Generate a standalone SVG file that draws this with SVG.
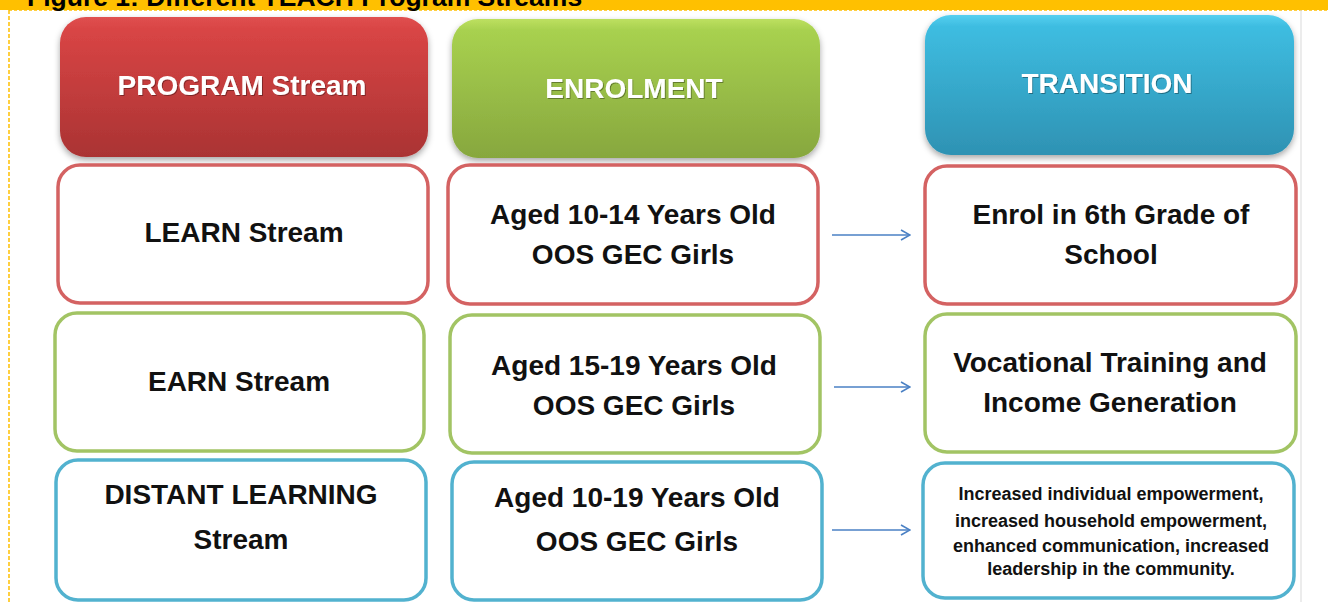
<svg xmlns="http://www.w3.org/2000/svg" width="1328" height="602" viewBox="0 0 1328 602">
<defs>
<linearGradient id="gRed" x1="0" y1="0" x2="0" y2="1"><stop offset="0" stop-color="#e05050"/><stop offset="0.08" stop-color="#d94545"/><stop offset="1" stop-color="#aa3333"/></linearGradient>
<linearGradient id="gGreen" x1="0" y1="0" x2="0" y2="1"><stop offset="0" stop-color="#bde060"/><stop offset="0.08" stop-color="#a8d14f"/><stop offset="1" stop-color="#87a73e"/></linearGradient>
<linearGradient id="gBlue" x1="0" y1="0" x2="0" y2="1"><stop offset="0" stop-color="#55d0f0"/><stop offset="0.08" stop-color="#3ebde1"/><stop offset="1" stop-color="#2e92b3"/></linearGradient>
<filter id="sh" x="-5%" y="-5%" width="110%" height="115%"><feDropShadow dx="0" dy="3" stdDeviation="3" flood-color="#000" flood-opacity="0.35"/></filter>
<filter id="tsh" x="-5%" y="-20%" width="110%" height="140%"><feDropShadow dx="1" dy="1" stdDeviation="0.6" flood-color="#000" flood-opacity="0.35"/></filter>
<marker id="arr" viewBox="0 0 12 12" refX="11" refY="6" markerWidth="12" markerHeight="12" markerUnits="userSpaceOnUse" orient="auto"><path d="M2,1 L11,6 L2,11" fill="none" stroke="#4a80c4" stroke-width="1.6"/></marker>
</defs>
<style>
.hdr{stroke:none;filter:url(#sh)}
.box{fill:#fff;stroke-width:3.5}
.r{stroke:#d46262}
.g{stroke:#a2c464}
.b{stroke:#52b2cf}
.ht{font-family:"Liberation Sans",Arial,sans-serif;font-weight:bold;font-size:28px;fill:#fff;text-anchor:middle;filter:url(#tsh)}
.t{font-family:"Liberation Sans",Arial,sans-serif;font-weight:bold;font-size:28px;fill:#111;text-anchor:middle}
.s{font-family:"Liberation Sans",Arial,sans-serif;font-weight:bold;font-size:18px;fill:#111;text-anchor:middle}
.con{stroke:#4a80c4;stroke-width:1.6;fill:none}
</style>
<rect x="0" y="0" width="1328" height="602" fill="#fff"/>
<g id="banner">
<rect x="0" y="0" width="1328" height="10" fill="#ffc000"/>
<line x1="9" y1="10" x2="1328" y2="10" stroke="#ffc000" stroke-width="1.5" stroke-dasharray="3,2"/>
<line x1="9" y1="10" x2="9" y2="602" stroke="#ffc000" stroke-width="1.5" stroke-dasharray="4,2"/>
<line x1="1301" y1="10" x2="1301" y2="602" stroke="#d9d9d9" stroke-width="1"/>
<text x="27" y="6" font-family="Liberation Sans,Arial,sans-serif" font-weight="bold" font-size="26.5" fill="#000">Figure 1: Different TEACH Program Streams</text>
</g>
<g id="hdr-program"><rect class="hdr" x="60" y="17" width="368" height="140" rx="26" fill="url(#gRed)"/><text class="ht" x="242" y="95">PROGRAM Stream</text></g>
<g id="hdr-enrolment"><rect class="hdr" x="452" y="19" width="368" height="139" rx="26" fill="url(#gGreen)"/><text class="ht" x="634" y="98">ENROLMENT</text></g>
<g id="hdr-transition"><rect class="hdr" x="925" y="15" width="369" height="140" rx="26" fill="url(#gBlue)"/><text class="ht" x="1107" y="93">TRANSITION</text></g>
<g id="learn"><rect class="box r" x="58" y="165" width="370" height="138" rx="22"/><text class="t" x="244" y="242">LEARN Stream</text></g>
<g id="enrol-learn"><rect class="box r" x="448" y="165" width="370" height="139" rx="22"/><text class="t" x="633" y="224">Aged 10-14 Years Old</text><text class="t" x="633" y="264">OOS GEC Girls</text></g>
<g id="trans-learn"><rect class="box r" x="925" y="166" width="371" height="138" rx="22"/><text class="t" x="1111" y="224">Enrol in 6th Grade of</text><text class="t" x="1111" y="264">School</text></g>
<g id="earn"><rect class="box g" x="55" y="313" width="369" height="138" rx="22"/><text class="t" x="239" y="391">EARN Stream</text></g>
<g id="enrol-earn"><rect class="box g" x="450" y="315" width="370" height="138" rx="22"/><text class="t" x="634" y="375">Aged 15-19 Years Old</text><text class="t" x="634" y="415">OOS GEC Girls</text></g>
<g id="trans-earn"><rect class="box g" x="925" y="314" width="371" height="138" rx="22"/><text class="t" x="1110" y="372">Vocational Training and</text><text class="t" x="1110" y="412">Income Generation</text></g>
<g id="distant"><rect class="box b" x="56" y="460" width="370" height="140" rx="22"/><text class="t" x="241" y="504">DISTANT LEARNING</text><text class="t" x="241" y="549">Stream</text></g>
<g id="enrol-distant"><rect class="box b" x="452" y="462" width="370" height="138" rx="22"/><text class="t" x="637" y="507">Aged 10-19 Years Old</text><text class="t" x="637" y="551">OOS GEC Girls</text></g>
<g id="trans-distant"><rect class="box b" x="923" y="463" width="371" height="135" rx="22"/>
<text class="s" x="1111" y="500">Increased individual empowerment,</text>
<text class="s" x="1111" y="527">increased household empowerment,</text>
<text class="s" x="1111" y="552">enhanced communication, increased</text>
<text class="s" x="1111" y="575">leadership in the community.</text></g>
<g id="connectors">
<line class="con" x1="832" y1="235" x2="910" y2="235" marker-end="url(#arr)"/>
<line class="con" x1="834" y1="387" x2="910" y2="387" marker-end="url(#arr)"/>
<line class="con" x1="832" y1="530" x2="910" y2="530" marker-end="url(#arr)"/>
</g>
</svg>
